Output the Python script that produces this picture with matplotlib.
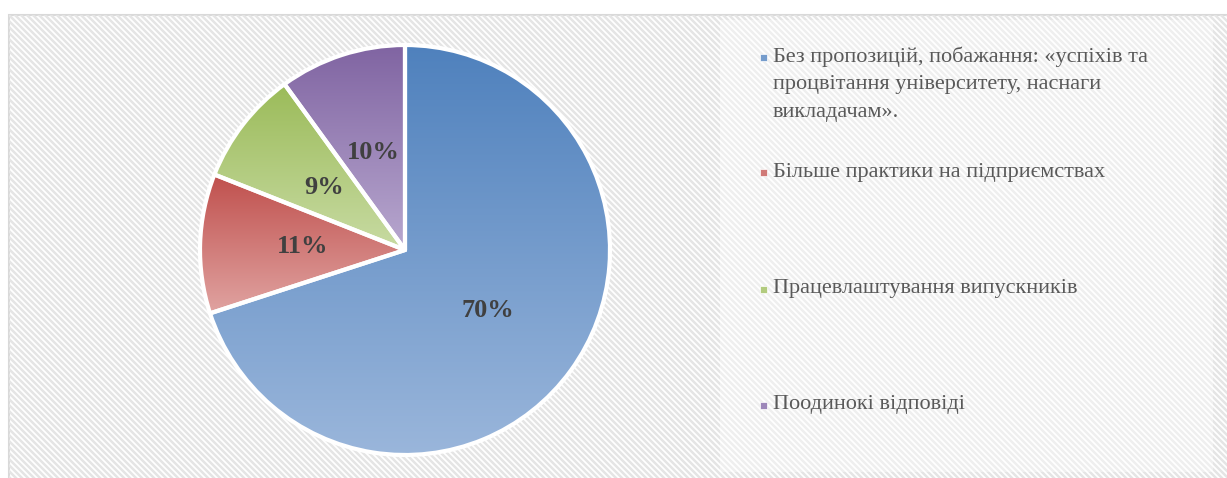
import matplotlib
matplotlib.use("Agg")
import matplotlib.pyplot as plt
import numpy as np
from matplotlib.colors import LinearSegmentedColormap
from matplotlib.patches import Rectangle
from matplotlib.collections import LineCollection

plt.rcParams['font.family'] = ['Liberation Serif', 'DejaVu Serif']

# Дані
labels = ["Без пропозицій, побажання: «успіхів та\nпроцвітання університету, наснаги\nвикладачам».",
          "Більше практики на підприємствах",
          "Працевлаштування випускників",
          "Поодинокі відповіді"]
values = [70, 11, 9, 10]
top_colors = ["#4f81bd", "#c0504d", "#9bbb59", "#8064a2"]
bottom_colors = ["#9ab6db", "#e0a3a1", "#c8dba3", "#b8a8cf"]

W, H = 1227, 478
fig = plt.figure(figsize=(W / 100, H / 100), dpi=100)

# фон з діагональною штриховкою (координати в пікселях)
bg = fig.add_axes([0, 0, 1, 1])
bg.set_xlim(0, W)
bg.set_ylim(H, 0)
bg.axis('off')
frame = Rectangle((8.5, 14.5), 1300, 500, facecolor='white', edgecolor='#d9d9d9', lw=1.5, zorder=1)
bg.add_patch(frame)
segs = []
for c in np.arange(-600, 1300, 6.0):
    segs.append([(c, 0), (c + 600, 600)])
lc = LineCollection(segs, colors='#e5e5e5', linewidths=1.8, zorder=2)
bg.add_collection(lc)
lc.set_clip_path(frame)
bg.add_patch(Rectangle((720, 20), 493, 452, facecolor='white', alpha=0.4, edgecolor='none', zorder=3))

# легенда
legend_y = [57, 172, 289, 405]
for lab, y, c1, c2 in zip(labels, legend_y, top_colors, bottom_colors):
    mc = tuple((np.array(matplotlib.colors.to_rgb(c1)) + np.array(matplotlib.colors.to_rgb(c2))) / 2)
    bg.add_patch(Rectangle((759.5, y - 3.5), 7, 7, facecolor=mc, edgecolor='white', lw=0.5, zorder=4))
    for k, line in enumerate(lab.split("\n")):
        bg.text(773, y + k * 27.5, line, fontsize=16, color='#595959', va='center', ha='left', zorder=5)

# кругова діаграма
cx, cy, r = 405, 250, 205
ax = fig.add_axes([(cx - r) / W, (H - cy - r) / H, 2 * r / W, 2 * r / H])
wedges, texts, autotexts = ax.pie(values, startangle=90, counterclock=False,
                                  autopct='%1.0f%%', pctdistance=0.5,
                                  wedgeprops=dict(edgecolor='white', linewidth=3))
ax.set_aspect('equal')
ax.axis('off')
ax.patch.set_alpha(0)

grad = np.linspace(1, 0, 256).reshape(-1, 1)
for w, c1, c2 in zip(wedges, top_colors, bottom_colors):
    th = np.radians(np.linspace(w.theta1, w.theta2, 200))
    ys = np.concatenate([np.sin(th), [0]])
    cmap = LinearSegmentedColormap.from_list('g', [c2, c1])
    im = ax.imshow(grad, extent=[-1, 1, ys.min(), ys.max()], cmap=cmap, aspect='auto', zorder=1)
    im.set_clip_path(w)
    w.set_facecolor('none')
    w.set_joinstyle('round')
    w.set_zorder(2)

for t in autotexts:
    t.set_fontsize(19)
    t.set_fontweight('bold')
    t.set_color('#404040')
    t.set_zorder(3)

ax.set_xlim(-1, 1)
ax.set_ylim(-1, 1)

fig.savefig("out.png", dpi=100)
